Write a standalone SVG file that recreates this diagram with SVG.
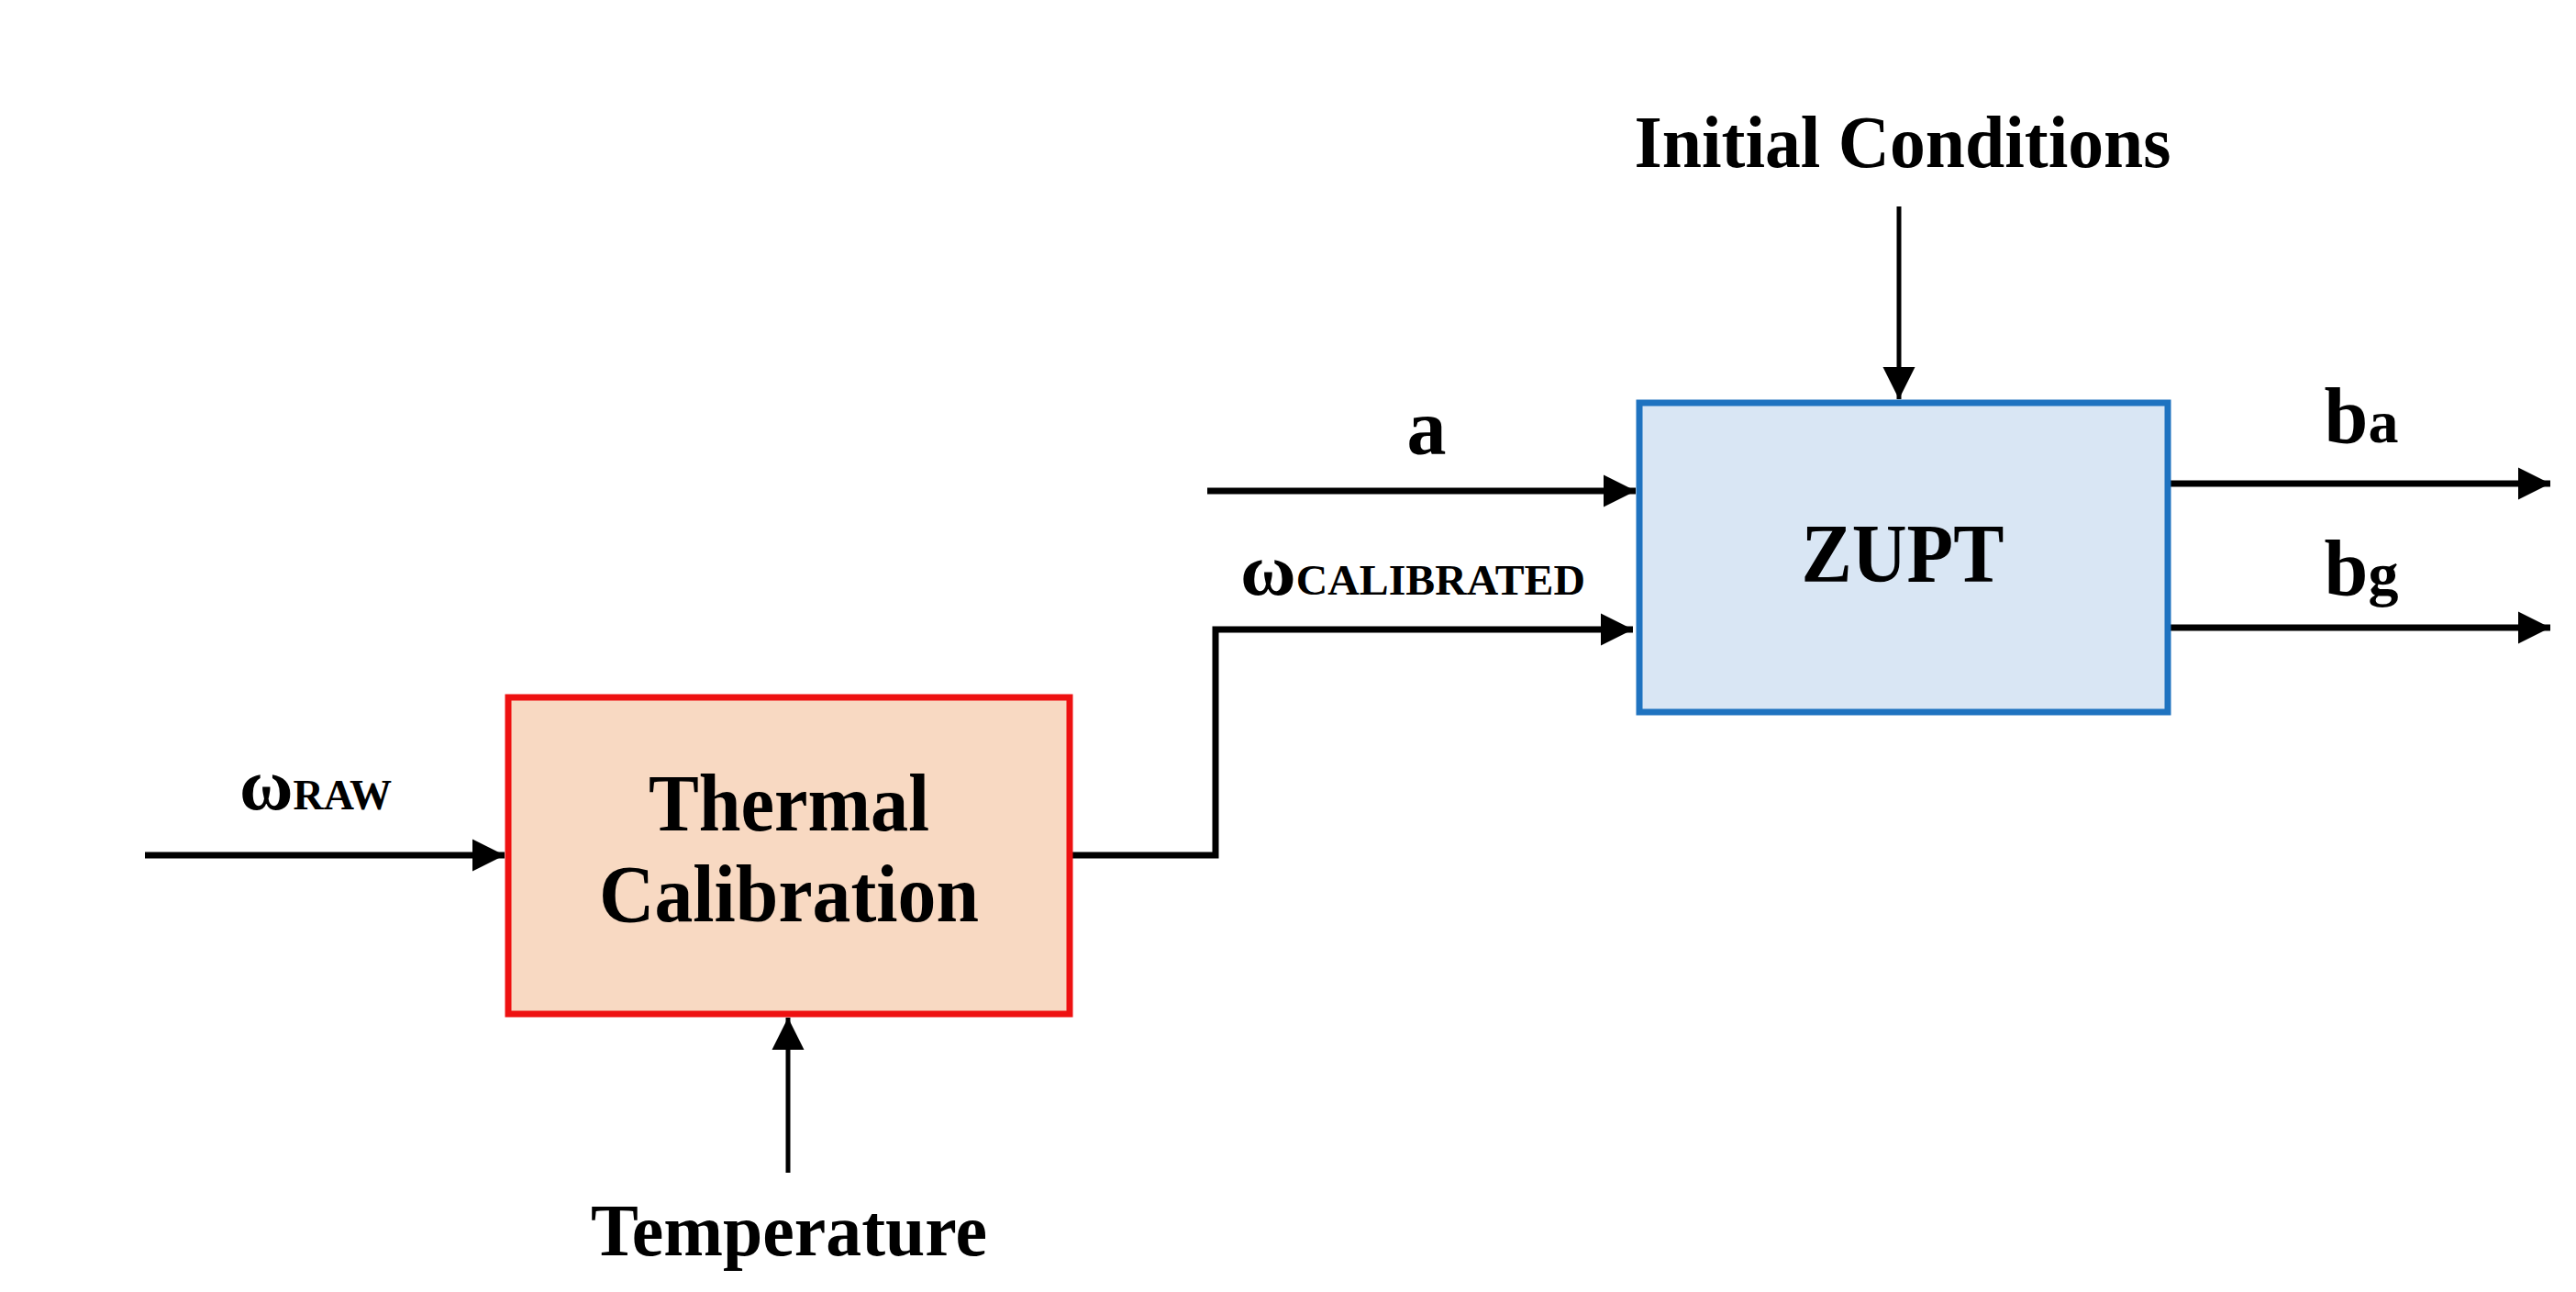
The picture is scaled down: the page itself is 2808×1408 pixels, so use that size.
<svg xmlns="http://www.w3.org/2000/svg" width="2808" height="1408" viewBox="0 0 2808 1408">
<style>
text{font-family:"Liberation Serif","Times New Roman",serif;font-weight:bold;fill:#000}
.c{stroke:#000;stroke-width:7;fill:none}
.v{stroke:#000;stroke-width:5;fill:none}
</style>
<defs>
<marker id="ah" markerWidth="6" markerHeight="6" refX="5" refY="3" orient="auto" markerUnits="strokeWidth"><path d="M0,0.5 L5,3 L0,5.5 z" fill="#000"/></marker>
<marker id="av" markerWidth="8" markerHeight="8" refX="7" refY="4" orient="auto" markerUnits="strokeWidth"><path d="M0,0.5 L7,4 L0,7.5 z" fill="#000"/></marker>
</defs>
<rect width="2808" height="1408" fill="#fff"/>
<g id="connectors">
<path class="c" d="M158,932 H550" marker-end="url(#ah)"/>
<path class="v" d="M859,1278 V1109" marker-end="url(#av)"/>
<path class="c" d="M1166,932 H1325 V686 H1780" marker-end="url(#ah)"/>
<path class="c" d="M1316,535 H1783" marker-end="url(#ah)"/>
<path class="v" d="M2070,225 V435" marker-end="url(#av)"/>
<path class="c" d="M2365,527 H2780" marker-end="url(#ah)"/>
<path class="c" d="M2365,684 H2780" marker-end="url(#ah)"/>
</g>
<g id="thermal">
<rect x="554" y="760" width="612" height="345" fill="#f8d9c2" stroke="#ee1111" stroke-width="7"/>
<text x="860" y="905" font-size="88" text-anchor="middle" textLength="306" lengthAdjust="spacingAndGlyphs">Thermal</text>
<text x="860" y="1004" font-size="88" text-anchor="middle" textLength="414" lengthAdjust="spacingAndGlyphs">Calibration</text>
</g>
<g id="zupt">
<rect x="1787" y="439" width="576" height="337" fill="#d9e6f4" stroke="#1f73c0" stroke-width="7"/>
<text x="2074" y="634" font-size="92" text-anchor="middle" textLength="221" lengthAdjust="spacingAndGlyphs">ZUPT</text>
</g>
<g id="labels">
<text x="261" y="882" font-size="80" textLength="166" lengthAdjust="spacingAndGlyphs">ω<tspan font-size="46">RAW</tspan></text>
<text x="860" y="1368" font-size="80" text-anchor="middle" textLength="432" lengthAdjust="spacingAndGlyphs">Temperature</text>
<text x="2074" y="182" font-size="80" text-anchor="middle" textLength="585" lengthAdjust="spacingAndGlyphs">Initial Conditions</text>
<text x="1555" y="495" font-size="86" text-anchor="middle">a</text>
<text x="1352" y="648" font-size="80" textLength="376" lengthAdjust="spacingAndGlyphs">ω<tspan font-size="46">CALIBRATED</tspan></text>
<text x="2574" y="482" font-size="86" text-anchor="middle">b<tspan font-size="66">a</tspan></text>
<text x="2574" y="648" font-size="86" text-anchor="middle">b<tspan font-size="66">g</tspan></text>
</g>
</svg>
